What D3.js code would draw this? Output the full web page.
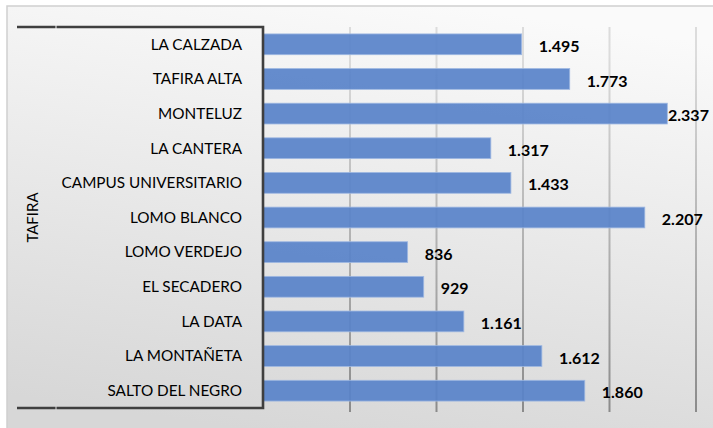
<!DOCTYPE html>
<html>
<head>
<meta charset="utf-8">
<script src="https://cdn.jsdelivr.net/npm/d3@7"></script>
<style>
  html, body { margin: 0; padding: 0; background: #fff; }
  svg { display: block; }
</style>
</head>
<body>
<div id="chart"></div>
<script>
(function(){
  'use strict';

  // data, top to bottom as drawn
  var barrios = ["LA CALZADA", "TAFIRA ALTA", "MONTELUZ", "LA CANTERA",
      "CAMPUS UNIVERSITARIO", "LOMO BLANCO", "LOMO VERDEJO", "EL SECADERO",
      "LA DATA", "LA MONTAÑETA", "SALTO DEL NEGRO"];
  var valores = [1495, 1773, 2337, 1317, 1433, 2207, 836, 929, 1161, 1612, 1860];
  var grupo = "TAFIRA";
  var ticks = [0, 500, 1000, 1500, 2000, 2500];

  var width = 713,
      height = 428,
      margin = {top: 27, right: 17.5, bottom: 20, left: 263};

  var fmt = function(v){ return d3.format(",")(v).replace(/,/g, "."); };

  var svg = d3.select("#chart")
    .append("svg")
    .attr("width", width)
    .attr("height", height);

  var defs = svg.append("defs");
  var bg = defs.append("linearGradient")
    .attr("id", "bg")
    .attr("x1", 0.62).attr("y1", 0)
    .attr("x2", 0.38).attr("y2", 1);
  bg.append("stop").attr("offset", "0%").attr("stop-color", "#fafafa");
  bg.append("stop").attr("offset", "100%").attr("stop-color", "#d7d7d7");

  var gl = defs.append("linearGradient")
    .attr("id", "grid")
    .attr("gradientUnits", "userSpaceOnUse")
    .attr("x1", 0).attr("y1", 27)
    .attr("x2", 0).attr("y2", 412);
  gl.append("stop").attr("offset", "0%").attr("stop-color", "#dcdcdc");
  gl.append("stop").attr("offset", "100%").attr("stop-color", "#858585");

  // chart area background + border (top and left only visible)
  svg.append("rect")
    .attr("x", 7).attr("y", 6)
    .attr("width", width).attr("height", height)
    .attr("fill", "url(#bg)")
    .attr("stroke", "#cfcfcf")
    .attr("stroke-width", 1.5);

  var plotH = 408 - margin.top;

  var x = d3.scaleLinear()
    .domain([0, 2500])
    .range([margin.left, width - margin.right]);

  var y = d3.scaleBand()
    .domain(barrios)
    .range([margin.top, margin.top + plotH])
    .paddingInner(0.4)
    .paddingOuter(0.2);

  // gridlines
  var grid = svg.append("g")
    .attr("transform", "translate(0," + margin.top + ")")
    .call(d3.axisTop(x).tickValues(ticks.slice(1)).tickSize(-(412 - margin.top)).tickFormat(""));
  grid.select(".domain").remove();
  grid.selectAll(".tick line")
    .attr("stroke", "url(#grid)")
    .attr("stroke-width", 2);

  // bars
  svg.append("g")
    .selectAll("rect")
    .data(valores)
    .enter()
    .append("rect")
    .attr("x", x(0))
    .attr("y", function(d, i){ return y(barrios[i]); })
    .attr("width", function(d){ return x(d) - x(0); })
    .attr("height", y.bandwidth())
    .attr("fill", "#5983c9")
    .attr("fill-opacity", 0.93)
    .attr("stroke", "#9fb8e2")
    .attr("stroke-width", 0.8);

  // value labels (pushed back inside the chart when too close to the edge)
  svg.append("g")
    .selectAll("text")
    .data(valores)
    .enter()
    .append("text")
    .text(function(d){ return fmt(d); })
    .attr("x", function(d){ return Math.min(x(d) + 17, 668); })
    .attr("y", function(d, i){ return y(barrios[i]) + y.bandwidth() / 2 + 2; })
    .attr("dy", "0.35em")
    .style("font-family", "Lato, 'Open Sans', sans-serif")
    .style("font-weight", "bold")
    .style("font-size", "16px")
    .style("fill", "#000");

  // category labels
  svg.append("g")
    .selectAll("text")
    .data(barrios)
    .enter()
    .append("text")
    .text(function(d){ return d; })
    .attr("x", 242)
    .attr("y", function(d){ return y(d) + y.bandwidth() / 2; })
    .attr("dy", "0.35em")
    .attr("text-anchor", "end")
    .style("font-family", "Lato, 'Open Sans', sans-serif")
    .style("font-size", "15.3px")
    .style("fill", "#000");

  // group label
  svg.append("text")
    .text(grupo)
    .attr("transform", "translate(33," + (margin.top + plotH / 2) + ") rotate(-90)")
    .attr("dy", "0.35em")
    .attr("text-anchor", "middle")
    .style("font-family", "Lato, 'Open Sans', sans-serif")
    .style("font-size", "15px")
    .style("fill", "#000");

  // multi-level axis bracket
  var axis = svg.append("g")
    .attr("fill", "none")
    .attr("stroke", "#3f3f3f")
    .attr("stroke-width", 2.6);
  axis.append("path")
    .attr("d", "M17," + margin.top + "H55.5M56.5," + margin.top + "H" + margin.left +
         "V408H56.5M55.5,408H17");
})();
</script>
</body>
</html>
